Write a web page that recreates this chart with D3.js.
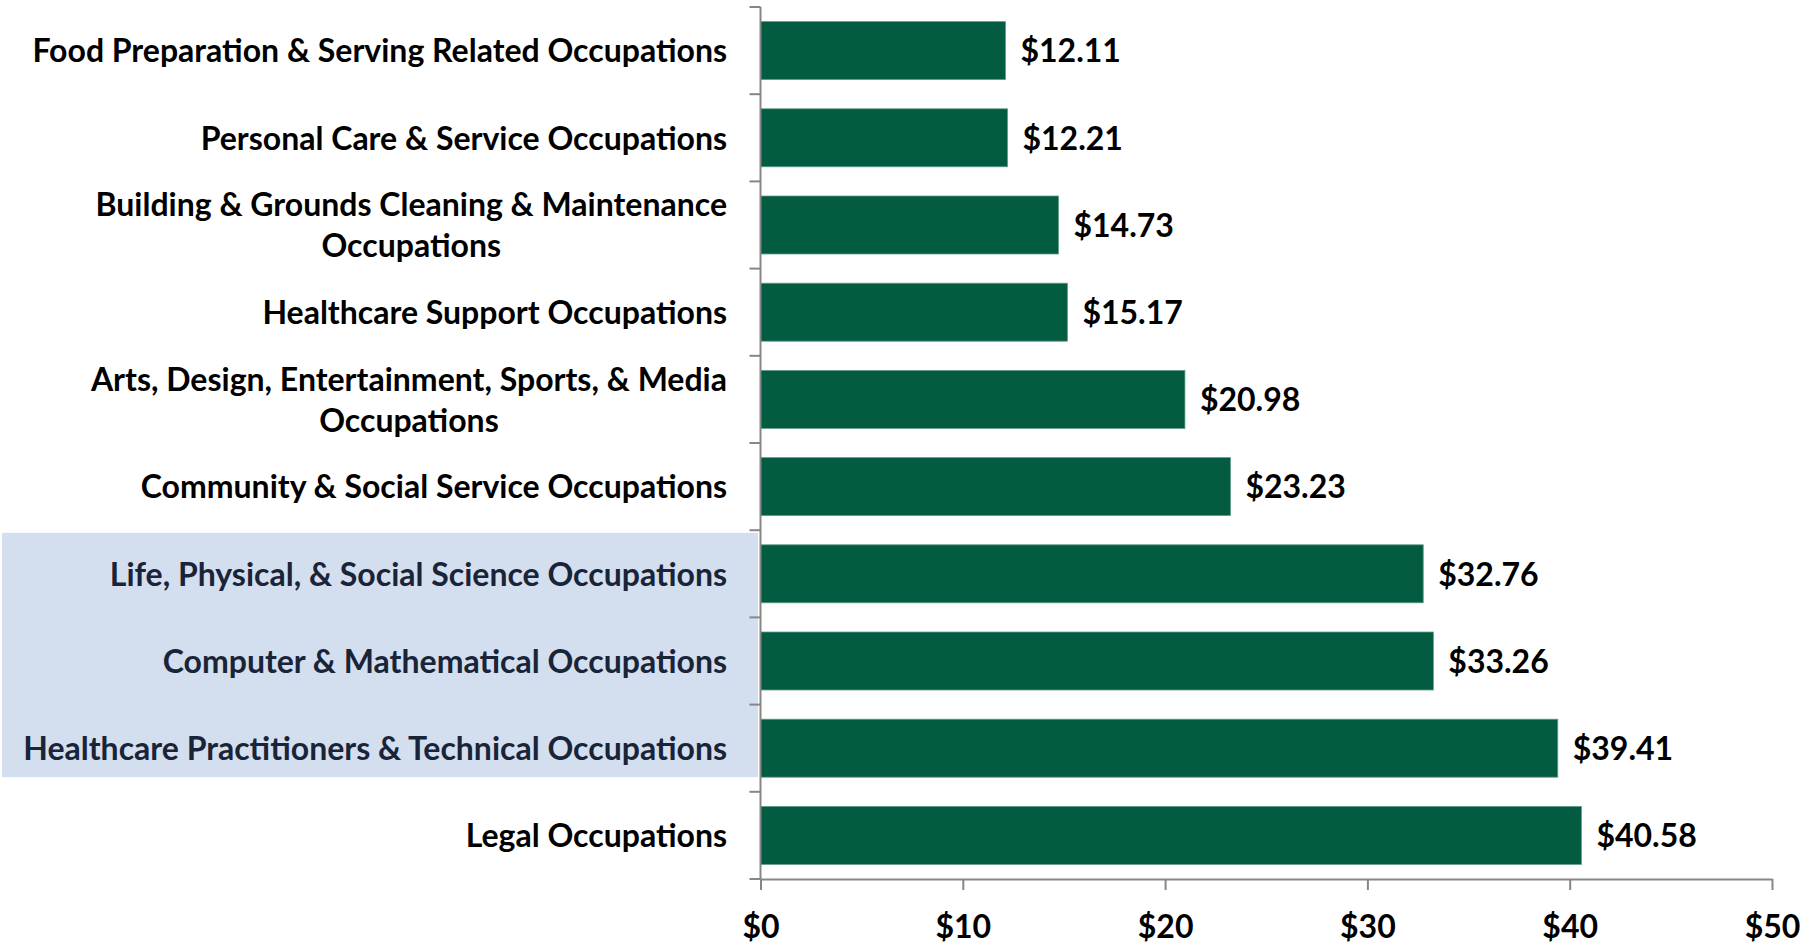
<!DOCTYPE html>
<html>
<head>
<meta charset="utf-8">
<script src="https://cdn.jsdelivr.net/npm/d3@7"></script>
<style>
  body { margin: 0; background: #fff; }
  text { font-family: Lato, "Open Sans", sans-serif; font-weight: 700; }
</style>
</head>
<body>
<script>
var width = 1806,
    height = 945;

// occupations, top to bottom
var categories = [
  ["Food Preparation & Serving Related Occupations"],
  ["Personal Care & Service Occupations"],
  ["Building & Grounds Cleaning & Maintenance", "Occupations"],
  ["Healthcare Support Occupations"],
  ["Arts, Design, Entertainment, Sports, & Media", "Occupations"],
  ["Community & Social Service Occupations"],
  ["Life, Physical, & Social Science Occupations"],
  ["Computer & Mathematical Occupations"],
  ["Healthcare Practitioners & Technical Occupations"],
  ["Legal Occupations"]
];
var wages = [12.11, 12.21, 14.73, 15.17, 20.98, 23.23, 32.76, 33.26, 39.41, 40.58];
var highlighted = [6, 7, 8];
var xTicks = [0, 10, 20, 30, 40, 50];

var fs = 32;

var svg = d3.select("body").append("svg")
    .attr("width", width)
    .attr("height", height);

var x = d3.scaleLinear().domain([0, 50]).range([760.5, 1772]);
var y = d3.scaleBand().domain(d3.range(categories.length))
    .range([7, 879]).paddingInner(0.335).paddingOuter(0.1675);

// highlight box behind the three labels
var hTop = y(highlighted[0]) - 12,
    hBot = y(highlighted[highlighted.length - 1]) + y.bandwidth();
svg.append("rect")
    .attr("x", 2).attr("y", hTop)
    .attr("width", 756).attr("height", hBot - hTop)
    .attr("fill", "#d3dfee");

// bars
svg.selectAll("rect.bar").data(wages).enter().append("rect")
    .attr("class", "bar")
    .attr("x", x(0))
    .attr("y", function(d, i) { return y(i); })
    .attr("width", function(d) { return x(d) - x(0); })
    .attr("height", y.bandwidth())
    .attr("fill", "#035b42")
    .attr("stroke", "#5f9c88")
    .attr("stroke-width", 0.8);

// value labels
svg.selectAll("text.val").data(wages).enter().append("text")
    .attr("class", "val")
    .attr("x", function(d) { return x(d) + 15; })
    .attr("y", function(d, i) { return y(i) + y.bandwidth() / 2; })
    .attr("dy", "0.37em")
    .attr("font-size", fs)
    .attr("fill", "#000")
    .text(function(d) { return "$" + d.toFixed(2); });

// category labels (multi-line ones centered under first line, block right-aligned)
var labelRight = 727, lineGap = 41;
categories.forEach(function(lines, i) {
  var cy = y(i) + y.bandwidth() / 2;
  var col = highlighted.indexOf(i) >= 0 ? "#1a2438" : "#000";
  var first = svg.append("text")
      .attr("x", labelRight)
      .attr("y", cy - (lines.length - 1) * lineGap / 2)
      .attr("dy", "0.37em")
      .attr("text-anchor", "end")
      .attr("font-size", fs)
      .attr("fill", col)
      .text(lines[0]);
  if (lines.length > 1) {
    var w = first.node().getComputedTextLength();
    for (var k = 1; k < lines.length; k++) {
      svg.append("text")
          .attr("x", labelRight - w / 2)
          .attr("y", cy - (lines.length - 1) * lineGap / 2 + k * lineGap)
          .attr("dy", "0.37em")
          .attr("text-anchor", "middle")
          .attr("font-size", fs)
          .attr("fill", col)
          .text(lines[k]);
    }
  }
});

// vertical category axis with ticks on band boundaries
var axisCol = "#868686";
svg.append("line")
    .attr("x1", x(0)).attr("x2", x(0))
    .attr("y1", 7).attr("y2", 879)
    .attr("stroke", axisCol).attr("stroke-width", 2);
svg.selectAll("line.ctick").data(d3.range(categories.length + 1)).enter().append("line")
    .attr("class", "ctick")
    .attr("x1", x(0) - 11).attr("x2", x(0))
    .attr("y1", function(i) { return 7 + i * y.step(); })
    .attr("y2", function(i) { return 7 + i * y.step(); })
    .attr("stroke", axisCol).attr("stroke-width", 2);

// horizontal value axis
var xAxis = svg.append("g")
    .attr("transform", "translate(0,879)")
    .call(d3.axisBottom(x).tickValues(xTicks).tickSize(11).tickSizeOuter(0)
      .tickFormat(function(d) { return "$" + d; }));
xAxis.select(".domain").attr("stroke", axisCol).attr("stroke-width", 2);
xAxis.selectAll(".tick line").attr("stroke", axisCol).attr("stroke-width", 2);
xAxis.selectAll(".tick text")
    .attr("font-size", fs)
    .attr("font-family", "Lato, sans-serif")
    .attr("fill", "#000")
    .attr("y", 36)
    .attr("dy", "0.71em");
</script>
</body>
</html>
